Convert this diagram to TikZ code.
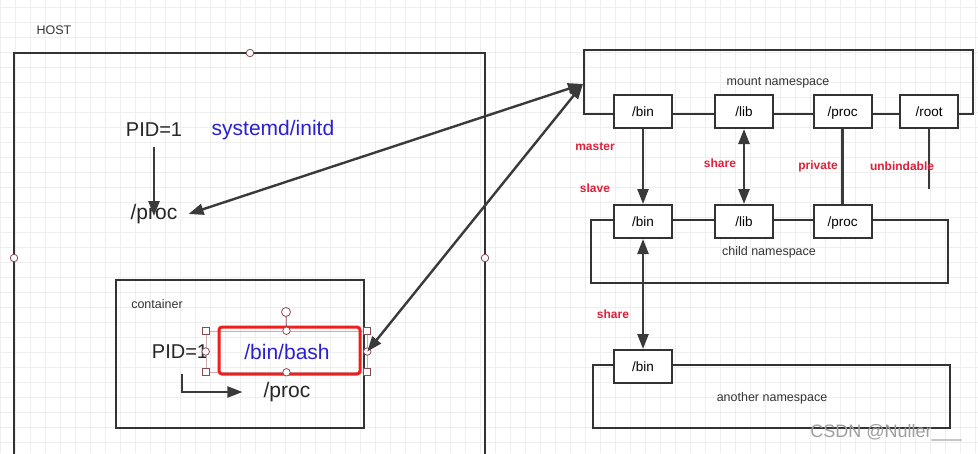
\documentclass[tikz,border=0pt]{standalone}
\usepackage{fontspec}
\setmainfont{Liberation Sans}
\usetikzlibrary{arrows.meta}
\definecolor{ink}{HTML}{333333}
\definecolor{arrc}{HTML}{3A3A3A}
\definecolor{bluet}{HTML}{2B1FD0}
\definecolor{redl}{HTML}{E0203A}
\definecolor{redbox}{HTML}{EE1F1F}
\definecolor{handlec}{HTML}{8A4A55}
\definecolor{gridc}{HTML}{EEEEEE}
\tikzset{
  boxline/.style={draw=ink, line width=2pt},
  fsbox/.style={boxline, fill=white, minimum width=58pt, minimum height=33pt, inner sep=0pt, text height=10pt, text depth=0pt, font=\fontsize{13.5}{15}\selectfont},
  lbl/.style={inner sep=0pt, font=\fontsize{12.5}{14}\selectfont, text=ink},
  redlbl/.style={inner sep=0pt, font=\bfseries\fontsize{12}{14}\selectfont, text=redl},
  big/.style={inner sep=0pt, font=\fontsize{20}{22}\selectfont, text=black!85},
  bigblue/.style={inner sep=0pt, font=\fontsize{21}{23}\selectfont, text=bluet},
  tip/.tip={Triangle[length=15pt,width=11pt]},
  arr/.style={draw=arrc, line width=2.4pt, -tip},
  darr/.style={draw=arrc, line width=2.4pt, tip-tip},
  plain/.style={draw=arrc, line width=2.4pt},
  hsq/.style={draw=handlec, fill=white, line width=0.8pt, minimum size=7pt, inner sep=0pt},
  hci/.style={draw=handlec, fill=white, line width=0.8pt, circle, minimum size=7.5pt, inner sep=0pt},
}
\begin{document}
\begin{tikzpicture}[x=1pt,y=-1pt]
\useasboundingbox (0,0) rectangle (978,453);
\clip (0,0) rectangle (978,453);
\fill[white] (0,0) rectangle (978,453);
\foreach \x in {0,15,...,975} \draw[gridc, line width=0.6pt] (\x,0) -- (\x,453);
\foreach \y in {7,22,...,452} \draw[gridc, line width=0.6pt] (0,\y) -- (978,\y);

% HOST
\node[lbl] (hostlbl) at (54,30) {HOST};
\draw[boxline] (14,470) -- (14,53) -- (485,53) -- (485,470);
\node[hci] (h1) at (250,53) {};
\node[hci] (h2) at (14,258) {};
\node[hci] (h3) at (485,258) {};

\node[big] (pid1) at (154,130) {PID=1};
\node[bigblue] (sysd) at (273,130) {systemd/initd};
\node[big, font=\fontsize{21}{23}\selectfont] (hproc) at (154,214) {/proc};
\draw[arr] (pid1.south) ++(0,10) coordinate (pa) (pa) -- ([yshift=-12pt]hproc.north);

% container
\draw[boxline] (116,280) rectangle (364,428);
\node[lbl] (contlbl) at (157,304) {container};
\node[big] (cpid) at (180,352) {PID=1};
\node[inner sep=0pt, draw=handlec!45, line width=0.6pt, minimum width=161pt, minimum height=41pt] (sel) at (286.5,351.5) {};
\node[draw=redbox, line width=3pt, rounded corners=3pt, minimum width=141pt, minimum height=47pt, inner sep=0pt] (bashbox) at (289.5,350.5) {};
\node[bigblue] (bash) at (287,352) {/bin/bash};
\node[big, font=\fontsize{21}{23}\selectfont] (cproc) at (287,392) {/proc};
\coordinate (lstart) at (182,374);
\draw[draw=arrc, line width=2.2pt, -tip] (lstart) |- ([xshift=-21pt]cproc.west);
\draw[handlec, line width=0.8pt] (286,312) -- (sel.north);
\node[hci, minimum size=9pt] (rot) at (286,312) {};
\foreach \p in {north west, north east, south west, south east} \node[hsq] at (sel.\p) {};
\foreach \p in {north, south, west, east} \node[hci] at (sel.\p) {};

% mount namespace
\draw[boxline] (584,114) -- (584,50) -- (973,50) -- (973,114) -- cycle;
\node[lbl] (mlbl) at (778,83) {mount namespace};
\node[fsbox] (mbin) at (643,111.5) {/bin};
\node[fsbox] (mlib) at (744,111.5) {/lib};
\node[fsbox] (mproc) at (842.5,111.5) {/proc};
\node[fsbox] (mroot) at (929,111.5) {/root};

% child namespace
\draw[boxline] (591,220) rectangle (948,283);
\node[lbl] (clbl) at (769,252) {child namespace};
\node[fsbox] (cbin) at (643,221.5) {/bin};
\node[fsbox] (clib) at (744,221.5) {/lib};
\node[fsbox] (cproc2) at (842.5,221.5) {/proc};

% another namespace
\draw[boxline] (593,365) rectangle (950,428);
\node[lbl] (albl) at (772,398) {another namespace};
\node[fsbox] (abin) at (643,366.5) {/bin};

% connectors right
\draw[arr] (mbin.south) -- (cbin.north);
\draw[darr] (mlib.south) -- (clib.north);
\draw[plain] (mproc.south) -- (cproc2.north);
\coordinate (rootend) at (929,189);
\draw[plain] (mroot.south) -- (rootend);
\draw[darr] (cbin.south) -- (abin.north);

\node[redlbl] (master) at (595,147) {master};
\node[redlbl] (slave) at (595,188) {slave};
\node[redlbl] (share1) at (720,163) {share};
\node[redlbl] (private) at (818,166) {private};
\node[redlbl] (unbind) at (902,166) {unbindable};
\node[redlbl] (share2) at (613,314) {share};

% big connectors
\coordinate (mleft) at (583,84);
\draw[darr] (mleft) -- ([xshift=11pt]hproc.east);
\draw[darr] (mleft) -- (sel.east);

% watermark
\node[inner sep=0pt, font=\fontsize{18}{20}\selectfont, text=gray!75] (wm) at (886,433) {CSDN @Nuller\_\_\_};
\end{tikzpicture}
\end{document}
